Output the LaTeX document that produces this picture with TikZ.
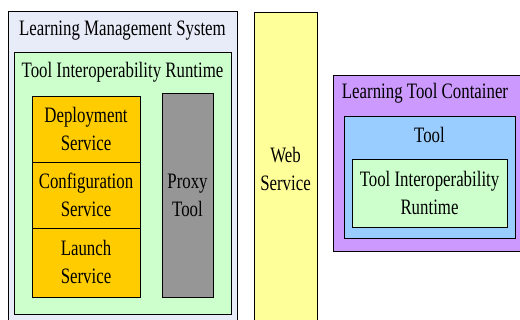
\documentclass[tikz,border=0pt]{standalone}
\usepackage{fontspec}
\setmainfont[FakeStretch=0.765]{Liberation Serif}
\definecolor{lmsblue}{RGB}{232,236,248}
\definecolor{tirgreen}{RGB}{204,255,204}
\definecolor{svcorange}{RGB}{255,204,0}
\definecolor{proxygray}{RGB}{150,150,150}
\definecolor{webyellow}{RGB}{255,255,153}
\definecolor{ltcpurple}{RGB}{204,153,255}
\definecolor{toolblue}{RGB}{153,204,255}
\begin{document}
\begin{tikzpicture}[x=1pt,y=-1pt,line width=.8pt,
  lbl/.style={align=center,inner sep=0pt,font=\fontsize{22}{28}\selectfont}]
\useasboundingbox (0,0) rectangle (520,320);

\draw [fill=lmsblue] (8,11) rectangle (237,330);
\node[lbl] (lms) at (122.5,31) {Learning Management System};
\draw [fill=tirgreen] (14,52) rectangle (231,314);
\node[lbl] (tir) at (122.5,72) {Tool Interoperability Runtime};

\draw [fill=svcorange] (32,96) rectangle (140,162);
\node[lbl] (deploy) at (86,129) {Deployment\\Service};
\draw [fill=svcorange] (32,162) rectangle (140,228);
\node[lbl] (config) at (86,195) {Configuration\\Service};
\draw [fill=svcorange] (32,228) rectangle (140,297);
\node[lbl] (launch) at (86,262) {Launch\\Service};

\draw [fill=proxygray] (162,93) rectangle (213,297);
\node[lbl] (proxy) at (187.5,195) {Proxy\\Tool};

\draw [fill=webyellow] (254,12) rectangle (317,330);
\node[lbl] (web) at (285.5,169) {Web\\Service};

\draw [fill=ltcpurple] (333,75) rectangle (530,251);
\node[lbl] (ltc) at (425,93) {Learning Tool Container};
\draw [fill=toolblue] (344,116) rectangle (515,238);
\node[lbl] (tool) at (429.5,135) {Tool};
\draw [fill=tirgreen] (352,159) rectangle (507,227);
\node[lbl] (toolrt) at (429.5,193) {Tool Interoperability\\Runtime};

\end{tikzpicture}
\end{document}
